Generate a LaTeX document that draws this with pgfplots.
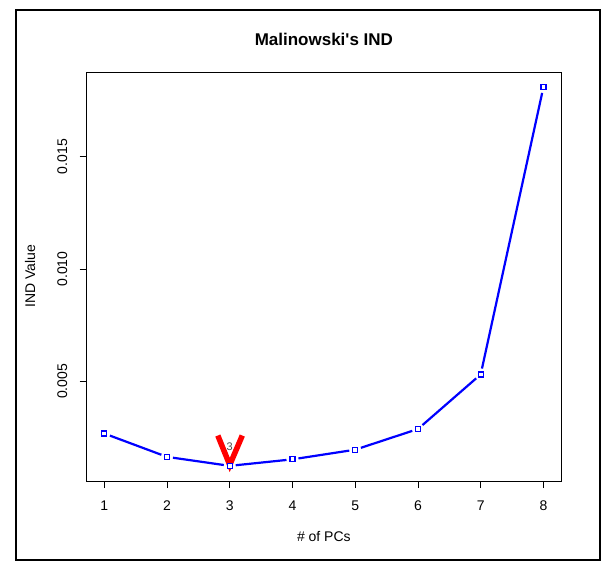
\documentclass[border=0pt]{standalone}
\usepackage{fontspec}
\setmainfont{Liberation Sans}
\usepackage{pgfplots}
\pgfplotsset{compat=1.18}
\pgfplotstableread{
x y
1 0.00268
2 0.00164
3 0.00124
4 0.00153
5 0.00196
6 0.00288
7 0.00531
8 0.01810
}\inddata
\begin{document}
\begin{tikzpicture}[x=1pt,y=1pt]
\path[fill=white] (0,0) rectangle (612,565);
\draw[line width=1.3pt] (16,5) rectangle (600,555);
\begin{axis}[
  at={(86.7pt,84pt)}, anchor=south west,
  scale only axis, width=474.3pt, height=409pt,
  xmin=0.72, xmax=8.28, ymin=0.000566, ymax=0.01877,
  xtick={1,2,3,4,5,6,7,8}, ytick={0.005,0.010,0.015},
  scaled y ticks=false,
  yticklabel style={/pgf/number format/.cd, fixed, fixed zerofill, precision=3, /tikz/.cd},
  /pgf/number format/assume math mode=true,
  tick align=outside, tick pos=left, major tick length=7pt,
  axis line style={line width=0.9pt}, every tick/.style={black, line width=0.9pt},
  tick label style={font=\fontsize{14}{16}\selectfont},
  yticklabel style={rotate=90, anchor=south},
  xticklabel shift=9pt, yticklabel shift=9pt,
  xlabel={\# of PCs}, ylabel={IND Value},
  label style={font=\fontsize{14}{16}\selectfont},
  xlabel style={at={(axis description cs:0.5,-0.1369)}, anchor=center},
  ylabel style={at={(axis description cs:-0.1195,0.5)}, anchor=center},
  title={Malinowski\textquotesingle s IND},
  title style={at={(axis description cs:0.5,1.066)}, anchor=center, font=\fontsize{17}{20}\selectfont\bfseries},
  clip=false,
  seg/.style={blue, line width=2.2pt, no marks, shorten <=6pt, shorten >=6pt},
]
\addplot[seg] coordinates {(1,0.00268) (2,0.00164)};
\addplot[seg] coordinates {(2,0.00164) (3,0.00124)};
\addplot[seg] coordinates {(3,0.00124) (4,0.00153)};
\addplot[seg] coordinates {(4,0.00153) (5,0.00196)};
\addplot[seg] coordinates {(5,0.00196) (6,0.00288)};
\addplot[seg] coordinates {(6,0.00288) (7,0.00531)};
\addplot[seg] coordinates {(7,0.00531) (8,0.01810)};
\addplot[red, line width=5.5pt, line join=miter, no marks] coordinates {(2.81,0.00259) (3,0.00128) (3.2,0.00259)};
\addplot[blue, only marks, mark=square*, mark size=2.5pt, mark options={draw=blue, fill=white, line width=1.3pt}] table[x=x,y=y] {\inddata};
\node[text=black!70, font=\fontsize{11}{13}\selectfont] at (axis cs:3,0.00207) {3};
\end{axis}
\end{tikzpicture}
\end{document}
